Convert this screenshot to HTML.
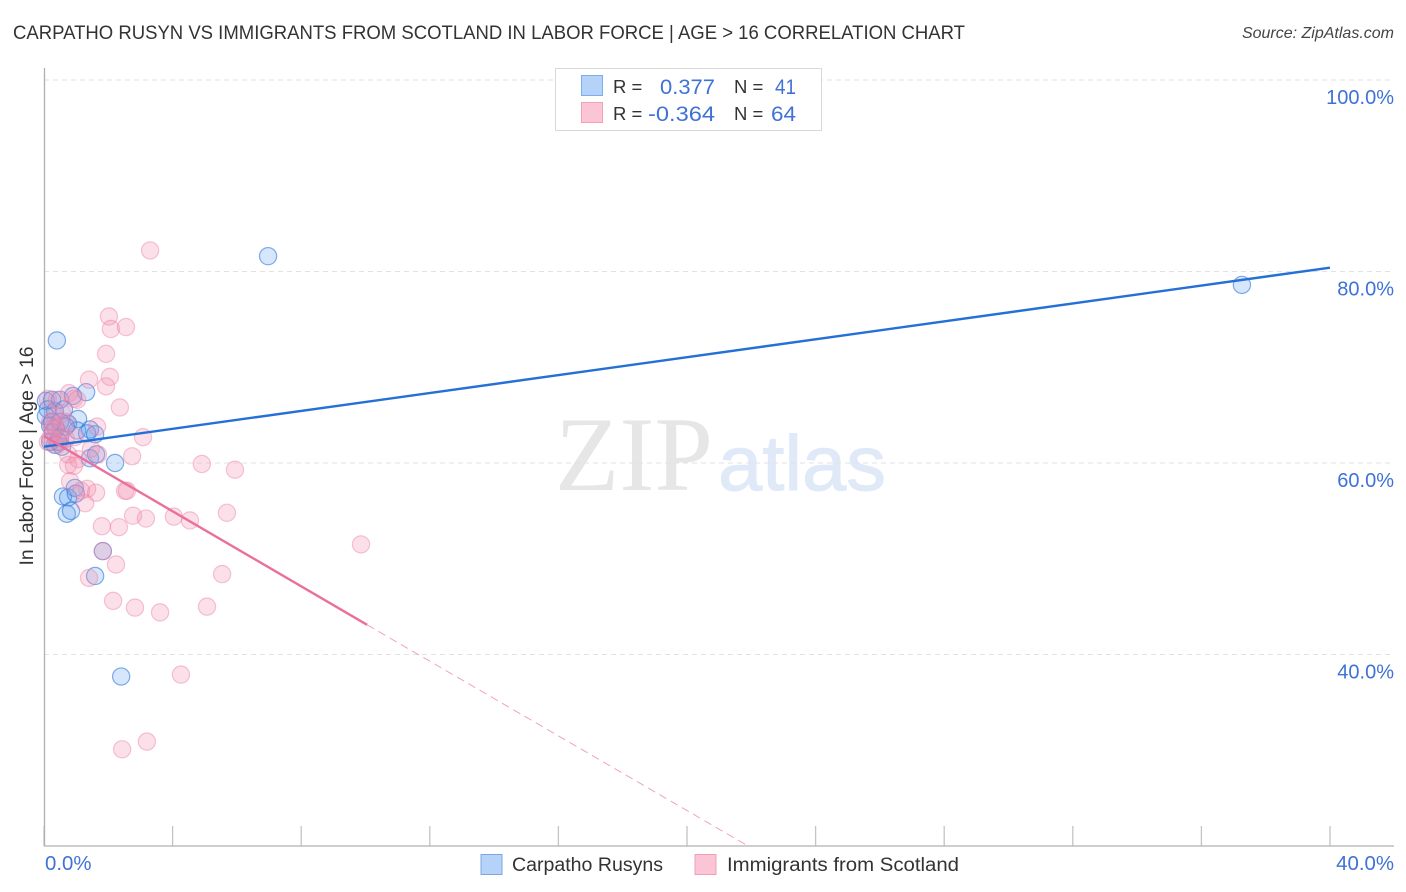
<!DOCTYPE html>
<html lang="en">
<head>
<meta charset="utf-8">
<title>Carpatho Rusyn vs Immigrants from Scotland correlation chart</title>
<style>
html,body{margin:0;padding:0;background:#fff;width:1406px;height:892px;overflow:hidden}
svg{display:block;font-family:"Liberation Sans",sans-serif}
</style>
</head>
<body>
<svg id="chart" xmlns="http://www.w3.org/2000/svg" width="1406" height="892" viewBox="0 0 1406 892">
  <text x="13" y="39" font-size="19.5" fill="#333" textLength="952" lengthAdjust="spacingAndGlyphs">CARPATHO RUSYN VS IMMIGRANTS FROM SCOTLAND IN LABOR FORCE | AGE &gt; 16 CORRELATION CHART</text>
  <text x="1394" y="38" font-size="16" font-style="italic" fill="#444" text-anchor="end">Source: ZipAtlas.com</text>
  <g>
    <text x="555" y="490" font-family="'Liberation Serif',serif" font-size="106" fill="#e6e6e6" textLength="158" lengthAdjust="spacingAndGlyphs">ZIP</text>
    <text x="718" y="490" font-size="78" fill="#dfe9f8" stroke="#dfe9f8" stroke-width="1" textLength="168" lengthAdjust="spacingAndGlyphs">atlas</text>
  </g>
  <g id="grid"></g>
  <g id="ylabels"></g>
  <g id="xticks"></g>
  <line x1="44.5" y1="68" x2="44.5" y2="846" stroke="#b0b0b0" stroke-width="1.3"/>
  <line x1="44" y1="846" x2="1394" y2="846" stroke="#b0b0b0" stroke-width="1.3"/>
  <g id="blue-points"></g>
  <g id="pink-points"></g>
  <g id="trends"></g>
  <text x="45" y="870" font-size="20.4" fill="#3f72d6">0.0%</text>
  <text x="1394" y="870" font-size="20.4" fill="#3f72d6" text-anchor="end">40.0%</text>
  <text transform="translate(33,456) rotate(-90)" font-size="19.4" fill="#333" text-anchor="middle">In Labor Force | Age &gt; 16</text>
  <g>
    <rect x="555.5" y="68.5" width="266" height="62" fill="#fff" stroke="#d8d8d8"/>
    <rect x="581.5" y="75.5" width="21" height="20" fill="#b5d2f8" stroke="#7fadea"/>
    <rect x="581.5" y="102.5" width="21" height="20" fill="#fcc5d6" stroke="#f3a0ba"/>
    <text x="613" y="93" font-size="18.5" fill="#333">R =</text>
    <text x="660" y="94" font-size="21.5" fill="#3f72d6" textLength="55" lengthAdjust="spacingAndGlyphs">0.377</text>
    <text x="734" y="93" font-size="18.5" fill="#333">N =</text>
    <text x="775" y="94" font-size="21.5" fill="#3f72d6" textLength="21" lengthAdjust="spacingAndGlyphs">41</text>
    <text x="613" y="120" font-size="18.5" fill="#333">R =</text>
    <text x="648" y="121" font-size="21.5" fill="#3f72d6" textLength="67" lengthAdjust="spacingAndGlyphs">-0.364</text>
    <text x="734" y="120" font-size="18.5" fill="#333">N =</text>
    <text x="771" y="121" font-size="21.5" fill="#3f72d6" textLength="25" lengthAdjust="spacingAndGlyphs">64</text>
  </g>
  <g>
    <rect x="481" y="854.5" width="21" height="20" fill="#b5d2f8" stroke="#7fa6dc"/>
    <text x="512" y="871" font-size="19" fill="#333" textLength="151" lengthAdjust="spacingAndGlyphs">Carpatho Rusyns</text>
    <rect x="695" y="854.5" width="21" height="20" fill="#fcc5d6" stroke="#eda0b8"/>
    <text x="727" y="871" font-size="19" fill="#333" textLength="232" lengthAdjust="spacingAndGlyphs">Immigrants from Scotland</text>
  </g>
</svg>
<script>
const yTickValues = [100, 80, 60, 40];
const yTickLabels = ["100.0%", "80.0%", "60.0%", "40.0%"];
const xTickValues = [0, 4, 8, 12, 16, 20, 24, 28, 32, 36, 40];

const blueX = [6.97,37.26,0.40,1.31,0.06,0.25,0.50,0.90,0.12,0.34,0.62,1.06,0.75,0.19,0.37,1.03,1.43,1.34,1.59,0.28,0.50,0.34,0.56,1.43,1.62,2.21,0.59,0.75,0.96,0.99,0.71,0.84,1.83,1.59,2.40,0.19,0.06,0.44,0.25,0.50,0.68];
const blueY = [81.6,78.6,72.8,67.4,66.5,66.6,66.6,67.0,65.6,65.4,65.6,64.6,64.1,63.9,63.6,63.4,63.5,63.1,63.0,63.2,62.7,61.9,61.7,60.5,60.9,60.0,56.5,56.4,57.4,56.8,54.7,55.0,50.8,48.2,37.7,62.2,64.9,62.2,64.3,64.3,63.8];
const pinkX = [3.30,2.02,2.08,2.55,1.93,2.05,1.40,1.93,0.78,0.12,0.40,0.93,1.03,2.36,0.56,0.68,1.65,3.08,2.74,1.68,1.46,1.06,0.75,4.91,5.94,0.75,0.93,2.52,2.58,0.81,1.34,1.15,1.62,1.28,2.77,3.17,4.04,4.54,5.69,1.80,2.33,9.86,1.83,2.24,5.54,1.40,2.15,2.83,3.61,5.07,4.26,3.20,2.43,0.19,0.34,0.50,0.19,0.12,0.50,0.68,0.96,0.34,0.25,0.40];
const pinkY = [82.2,75.3,74.0,74.2,71.4,69.0,68.7,68.0,67.3,66.7,66.6,66.7,66.6,65.8,65.2,64.3,63.8,62.7,60.7,60.9,61.5,60.4,60.9,59.9,59.3,59.8,59.7,57.1,57.1,58.1,57.3,57.1,56.9,55.8,54.5,54.2,54.4,54.0,54.8,53.4,53.3,51.5,50.8,49.4,48.4,48.0,45.6,44.9,44.4,45.0,37.9,30.9,30.1,64.3,63.8,63.1,62.6,62.2,62.2,62.5,62.7,64.9,63.6,61.9];

const blueTrendStart = [0, 61.7];
const blueTrendEnd = [40, 80.4];
const pinkTrendStart = [0, 62.8];
const pinkTrendSolidEnd = [10.05, 43.1];
const pinkTrendDashEnd = [21.9, 20];

const svgNS = "http://www.w3.org/2000/svg";
const xScale = v => 44 + v * (1330 - 44) / 40;
const yScale = v => 846 - (v - 20) * (846 - 80) / 80;

function mk(tag, parent, attrs) {
  const el = document.createElementNS(svgNS, tag);
  Object.keys(attrs).forEach(k => el.setAttribute(k, attrs[k]));
  document.getElementById(parent).appendChild(el);
  return el;
}

yTickValues.forEach((v, i) => {
  const line = mk("line", "grid", {x1: 44, x2: 1394, y1: yScale(v), y2: yScale(v), stroke: "#e2e2e2", "stroke-width": 1, "stroke-dasharray": "5 4"});
  
  
  const label = mk("text", "ylabels", {x: 1394, y: yScale(v) + 24, "font-size": 20, fill: "#3f72d6", "text-anchor": "end"});
  label.textContent = yTickLabels[i];
  
  
});

xTickValues.forEach(v => {
  const tick = mk("line", "xticks", {x1: xScale(v), x2: xScale(v), y1: 826, y2: 846, stroke: "#c4c4c4", "stroke-width": 1.3});
  
  
});

blueX.forEach((v, i) => {
  const dot = mk("circle", "blue-points", {cx: xScale(v), cy: yScale(blueY[i]), r: 8.6, fill: "#5a9cf0", "fill-opacity": 0.25, stroke: "#2f78dc", "stroke-opacity": 0.6, "stroke-width": 1.2});
  
  
});

pinkX.forEach((v, i) => {
  const dot = mk("circle", "pink-points", {cx: xScale(v), cy: yScale(pinkY[i]), r: 8.6, fill: "#f48fb1", "fill-opacity": 0.28, stroke: "#ea7fa3", "stroke-opacity": 0.45, "stroke-width": 1.2});
  
  
});

const blueTrend = mk("line", "trends", {x1: xScale(blueTrendStart[0]), y1: yScale(blueTrendStart[1]), x2: xScale(blueTrendEnd[0]), y2: yScale(blueTrendEnd[1]), stroke: "#2470d6", "stroke-width": 2.4});



const pinkTrend = mk("line", "trends", {x1: xScale(pinkTrendStart[0]), y1: yScale(pinkTrendStart[1]), x2: xScale(pinkTrendSolidEnd[0]), y2: yScale(pinkTrendSolidEnd[1]), stroke: "#ea6f9c", "stroke-width": 2.4});



const pinkDash = mk("line", "trends", {x1: xScale(pinkTrendSolidEnd[0]), y1: yScale(pinkTrendSolidEnd[1]), x2: xScale(pinkTrendDashEnd[0]), y2: yScale(pinkTrendDashEnd[1]), stroke: "#f0a3bf", "stroke-width": 1, "stroke-dasharray": "8 5"});


</script>
</body>
</html>
